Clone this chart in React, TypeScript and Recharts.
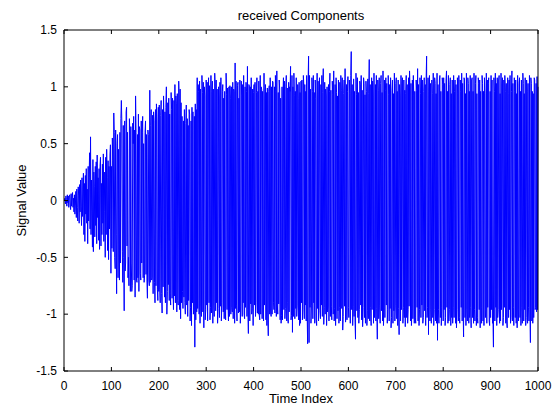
import { LineChart, Line, XAxis, YAxis, Label } from 'recharts'

// received signal (samples 1..1000)
const SIG_000_199 = [
  0, 0.02, -0.03, 0.04, 0.01, -0.05, 0.05, -0.02, 0.04, -0.06, 0.03, 0.05, -0.04, -0.08, 0.06, -0.05, 0.03, 0.07, -0.06, 0.02,
  -0.1, 0.05, -0.12, -0.04, 0.08, -0.15, 0.1, -0.06, -0.18, 0.12, 0.04, -0.2, 0.14, -0.1, 0.18, -0.05, -0.22, 0.2, -0.14, 0.1,
  0.24, -0.3, 0.15, -0.36, 0.22, -0.12, 0.28, -0.2, 0.1, -0.38, 0.3, -0.18, 0.2, 0.42, -0.25, 0.56, -0.3, 0.18, -0.1, -0.41,
  0.36, -0.45, 0.25, 0.12, -0.32, 0.3, -0.22, 0.34, -0.38, 0.4, -0.15, 0.2, -0.35, 0.28, -0.43, 0.3, 0.38, -0.4, 0.15, -0.3,
  0.32, -0.2, 0.41, -0.36, 0.25, -0.1, -0.5, 0.38, -0.3, 0.45, 0.2, -0.44, 0.35, -0.52, 0.3, -0.25, 0.4, 0.49, -0.64, 0.3,
  -0.42, 0.55, 0.35, -0.45, 0.77, 0.6, -0.5, -0.6, 0.62, -0.3, -0.82, 0.5, 0.58, -0.68, 0.45, -0.5, -0.7, 0.6, -0.55, 0.72,
  0.88, 0.7, -0.45, -0.72, 0.66, -0.5, -0.97, 0.7, -0.62, -0.55, 0.78, 0.82, -0.4, 0.6, -0.68, -0.5, -0.75, 0.72, 0.58, -0.8,
  0.65, -0.55, -0.8, -0.75, 0.68, 0.5, 0.74, -0.7, 0.62, -0.85, 0.92, 0.6, -0.7, -0.72, 0.58, -0.68, 0.76, -0.8, 0.65, 0.62,
  -0.64, -0.7, 0.7, -0.55, 0.6, 0.74, -0.68, 0.5, -0.72, -0.66, 0.6, 0.7, -0.65, 0.58, -0.7, -0.86, 0.62, 0.58, -0.7, -0.75,
  0.97, -0.72, 0.66, 0.8, -0.7, -0.68, 0.75, -0.82, 0.78, 0.7, -0.72, -0.9, 0.8, -0.75, 0.85, 0.7, -0.78, -0.88, 0.82, -0.8,
]

const SIG_200_399 = [
  0.84, -0.78, -0.9, 0.75, 0.88, -0.82, -0.99, 0.8, -0.76, 0.92, 0.7, -0.85, 0.78, -0.9, 0.82, 1.0, -1.0, -0.8, 0.86, -0.74,
  0.9, -0.88, 0.76, -0.82, -0.92, 0.95, 0.8, -0.86, 0.9, -0.78, -0.96, 0.88, -0.84, 1.02, -0.9, 0.92, 0.85, -0.98, 0.94, -0.88,
  -0.92, 1.05, 0.9, -0.96, 0.98, -1.04, 0.86, -0.9, 0.74, -0.8, -0.95, 0.7, -0.85, 0.8, -0.9, -1.0, 0.68, 0.84, -0.92, 0.72,
  -1.02, 0.66, -0.88, 0.8, 0.76, -1.06, -0.94, 0.7, -1.1, 0.82, -0.9, 0.78, -1.0, -0.96, 0.74, -1.29, 0.85, -1.05, 0.8, -0.98,
  1.08, -0.95, 1.02, 0.96, -1.0, 1.05, -1.08, 0.98, -0.92, -1.02, 1.1, 0.95, -0.98, 1.04, -1.12, 1.0, 0.92, -1.05, -0.96, 1.06,
  -0.92, 1.04, -1.06, 0.95, 1.08, -0.9, 1.01, -1.05, -0.94, 1.1, -0.99, 0.96, 1.05, -1.08, 0.98, -0.92, -1.02, 1.12, 1.0, -0.97,
  1.06, -0.9, 0.98, -1.08, -0.95, 1.0, 0.9, -1.03, 1.04, -0.93, 1.08, -1.06, -0.9, 0.96, 1.02, -0.98, 0.9, -1.04, 0.96, -0.95,
  -1.05, 1.12, 0.93, -0.96, 0.99, -0.91, -1.06, 1.0, -1.02, 1.01, 0.9, -1.0, 1.0, -0.94, -0.98, 1.04, -1.04, 0.98, 0.96, -1.08,
  1.21, -0.95, 1.05, -0.92, -1.06, 1.01, 1.04, -0.99, 0.9, -0.98, 1.06, -1.08, -0.93, 1.05, 0.92, -1.02, 1.02, -0.9, 1.1, -1.0,
  -1.04, 1.0, -0.94, 1.04, 0.96, -1.02, 1.18, -0.96, -1.17, 1.02, 1.01, -1.06, 1.0, -0.91, 1.08, -1.0, -0.95, 0.98, -1.1, 0.95,
]

const SIG_400_599 = [
  1.02, -0.92, 1.04, -1.02, -0.9, 0.95, 1.08, -0.99, 0.96, -1.0, 1.05, -1.01, -1.05, 1.1, -1.0, 1.0, 0.98, -1.04, 0.96, -0.96,
  -1.06, 1.12, -0.92, 0.9, 1.02, -1.05, 0.95, -1.1, 0.99, -1.0, -1.19, 0.96, 1.01, -1.0, 1.08, -0.98, -1.02, 1.0, -1.0, 1.05,
  1.04, -0.9, -0.96, 1.0, -0.99, 1.1, 0.96, -1.02, 1.14, -0.92, -1.0, 0.95, -0.91, 1.06, 0.98, -1.05, 0.9, -1.08, -1.01, 1.0,
  -1.05, 0.92, 1.08, -0.96, 1.05, -1.04, -0.95, 1.0, 1.1, -1.06, 0.99, -0.9, -1.08, 1.04, -0.98, 1.0, 0.96, 1.18, -1.05, -1.01,
  1.1, -1.16, 1.0, -1.02, 1.12, 0.92, -1.04, 0.96, -0.95, 1.08, -1.02, -0.92, 1.02, 0.9, -1.05, 1.04, -1.1, 0.95, -1.08, 1.05,
  -0.9, 1.06, -1.05, -0.96, 1.1, 1.01, -1.04, 1.02, -0.92, 0.96, -1.06, 1.1, -1.0, -1.26, 1.05, 1.27, -1.25, 1.1, -0.94, 0.98,
  -1.08, -0.92, 1.08, 0.96, -1.04, 1.1, -0.9, 0.95, -1.08, 1.06, 0.9, -1.05, -1.1, 1.12, -0.95, 1.05, -1.06, 0.93, 1.08, -0.97,
  -1.04, 1.02, -0.92, 1.1, -1.02, 0.95, 1.16, -1.09, -0.94, 1.04, -1.0, 0.98, 0.92, -1.1, 1.0, -0.98, -0.93, 1.02, -1.06, 0.96,
  1.12, -1.02, 0.97, -0.93, -1.05, 1.05, 0.93, -1.0, 1.14, -1.06, -0.95, 1.02, -1.1, 1.08, 0.95, -1.04, 0.92, -0.97, 1.06, -1.08,
  -0.94, 1.04, -1.06, 1.1, 0.97, -0.95, 1.08, -1.14, -1.02, 0.94, 1.06, -0.93, 1.16, -1.07, -0.97, 1.02, -1.05, 0.96, 1.09, -0.94,
]

const SIG_600_799 = [
  -1.03, 1.06, 0.94, -1.08, 1.1, 1.31, -0.96, 1.02, -1.1, -0.93, 1.07, -1.02, 0.96, -1.06, -1.22, 1.12, 0.93, -0.97, 1.08, -1.03,
  0.95, -1.08, -0.96, 1.05, 1.02, -0.92, 1.1, -1.05, 0.97, -1.11, -0.94, 1.08, 1.03, -1.03, 0.93, -1.08, 1.05, 0.96, -1.1, -0.97,
  1.07, -1.04, 0.94, 1.24, -1.06, 1.02, -0.94, -1.1, 1.08, -0.96, 1.05, 0.92, -1.08, 1.12, -1.03, -0.93, 1.02, -1.06, 1.1, -0.95,
  -1.22, 1.06, 0.97, -1.04, 1.08, -0.92, -1.08, 1.03, 1.1, -0.97, 0.95, -1.06, 1.14, -1.1, -0.94, 1.06, -1.03, 0.97, 1.08, -0.92,
  1.03, -1.08, -0.96, 1.1, 0.93, -1.06, 1.02, -0.95, 1.08, -1.12, -1.03, 0.97, 1.06, -1.08, 0.94, -0.97, 1.12, -1.06, -0.92, 1.03,
  1.08, -1.04, 0.96, -1.1, 1.06, -0.95, -1.18, 1.02, 0.92, -1.06, 1.1, -0.96, 1.03, 1.08, -1.08, -0.94, 1.06, -1.03, 0.97, -1.11,
  0.94, 1.1, -1.03, 1.02, -1.08, -0.96, 1.08, -0.93, 1.14, 0.97, -1.06, 1.03, -1.1, -0.95, 1.06, -1.04, 1.1, 0.92, -1.08, 0.96,
  -1.03, -1.08, 1.06, 0.97, -0.94, 1.16, -1.06, 1.02, -1.1, -0.96, 1.08, 0.94, -1.03, 1.1, -0.92, 1.06, -1.08, -1.03, 0.96, 1.08,
  -0.97, 1.02, -1.1, 1.06, 1.27, -1.03, -0.94, 1.08, -1.18, 0.96, 1.1, -1.06, 1.03, -0.96, -1.08, 1.06, 0.94, -1.03, 1.12, -1.1,
  -0.96, 1.08, 1.03, -1.06, 0.94, -1.08, 1.12, -1.23, 1.02, -0.96, -1.08, 1.06, 1.1, -1.03, 0.96, -1.1, -0.94, 1.08, 1.02, -1.06,
]

const SIG_800_999 = [
  1.08, -0.96, 1.03, -1.1, -1.03, 1.06, 1.14, -0.94, 0.96, -1.08, 1.1, -1.06, -0.96, 1.02, 1.08, -1.1, 0.94, -1.03, 1.06, -1.08,
  -0.94, 1.1, -1.03, 0.96, 1.06, -1.08, 1.02, -1.12, -0.96, 1.08, 0.94, -1.06, 1.1, -1.03, -1.08, 1.06, 0.96, -0.94, 1.12, -1.06,
  1.03, -0.96, -1.2, 1.08, 1.06, -1.03, 0.94, -1.1, 1.12, -0.96, -1.06, 1.08, 1.03, -1.08, 0.96, -1.03, 1.1, -0.94, -1.12, 1.06,
  1.08, -1.03, 0.96, -1.08, 1.12, -0.96, -1.06, 1.03, 1.1, -1.1, 0.94, -1.03, -1.08, 1.08, 1.03, -0.96, 1.06, -1.12, 0.96, -0.94,
  -1.08, 1.1, 1.03, -1.06, 0.96, -1.1, 1.08, 0.94, -1.03, -0.96, 1.12, -1.08, 1.06, -0.94, 1.03, 1.08, -1.06, -1.1, 0.96, -1.03,
  1.1, -0.96, 1.06, -1.08, -1.03, -1.29, 1.08, 0.96, -1.06, 1.12, -0.94, 1.03, -1.1, 1.08, -1.03, -0.96, 1.06, 1.1, -1.08, 0.94,
  -1.06, 1.12, -0.96, 1.03, 1.08, -1.1, -1.03, 1.06, -0.94, 1.1, 0.96, -1.08, 1.03, -1.06, -1.12, 1.08, 0.94, -1.03, 1.06, -0.96,
  1.1, -1.08, -1.03, 0.96, 1.14, -1.06, 1.03, -0.94, -1.1, 1.08, 0.96, -1.03, 1.06, -1.08, 0.94, -1.12, 1.1, -0.96, -1.06, 1.03,
  1.08, -1.03, 0.96, -1.1, 1.06, -0.94, -1.08, 1.12, 1.03, -1.06, 0.94, -0.96, 1.08, -1.1, -1.03, 1.06, 0.96, -1.08, 1.03, -0.94,
  -1.06, 1.1, -0.96, -1.25, 1.08, 1.03, -1.06, 0.96, -1.08, 0.94, -1.03, 1.08, 1.06, -0.96, -0.94, 1.03, -0.98, 1.09, -0.96, 1.0,
]

const X_TICKS = [0, 100, 200, 300, 400, 500, 600, 700, 800, 900, 1000]
const Y_TICKS = [-1.5, -1, -0.5, 0, 0.5, 1, 1.5]

const SIGNAL = [...SIG_000_199, ...SIG_200_399, ...SIG_400_599, ...SIG_600_799, ...SIG_800_999]
const data = SIGNAL.map((v, i) => ({ t: i + 1, v }))

const FONT = '"Liberation Sans", Arial, Helvetica, sans-serif'
const tick = { fill: '#000', fontSize: 12 }
const black = { stroke: '#000' }
const blank = () => ''

export default function App() {
  return (
    <div style={{ position: 'absolute', left: 0, top: 0, width: 556, height: 408, background: '#fff' }}>
      <LineChart
        width={556}
        height={408}
        data={data}
        margin={{ top: 29, right: 17, bottom: 7, left: 14 }}
        style={{ fontFamily: FONT }}
      >
        <XAxis
          xAxisId="bottom"
          dataKey="t"
          type="number"
          domain={[0, 1000]}
          ticks={X_TICKS}
          interval={0}
          height={30}
          tickSize={-4}
          tickMargin={14}
          tick={tick}
          axisLine={black}
          tickLine={black}
        >
          <Label value="Time Index" position="insideBottom" offset={-2} style={{ fill: '#000', fontSize: 13 }} />
        </XAxis>
        <XAxis
          xAxisId="top"
          orientation="top"
          dataKey="t"
          type="number"
          domain={[0, 1000]}
          ticks={X_TICKS}
          interval={0}
          height={1}
          tickSize={-4}
          tickFormatter={blank}
          axisLine={black}
          tickLine={black}
        >
          <Label value="received Components" position="top" offset={9} style={{ fill: '#000', fontSize: 13 }} />
        </XAxis>
        <YAxis
          yAxisId="left"
          type="number"
          domain={[-1.5, 1.5]}
          ticks={Y_TICKS}
          interval={0}
          width={50}
          tickSize={-4}
          tickMargin={11}
          tick={tick}
          axisLine={black}
          tickLine={black}
        >
          <Label
            value="Signal Value"
            angle={-90}
            position="insideLeft"
            offset={7}
            style={{ fill: '#000', fontSize: 13, textAnchor: 'middle' }}
          />
        </YAxis>
        <YAxis
          yAxisId="right"
          orientation="right"
          type="number"
          domain={[-1.5, 1.5]}
          ticks={Y_TICKS}
          interval={0}
          width={1}
          tickSize={-4}
          tickFormatter={blank}
          axisLine={black}
          tickLine={black}
        />
        <Line
          xAxisId="bottom"
          yAxisId="left"
          type="linear"
          dataKey="v"
          stroke="#0000ff"
          strokeWidth={1}
          dot={false}
          isAnimationActive={false}
        />
      </LineChart>
    </div>
  )
}
